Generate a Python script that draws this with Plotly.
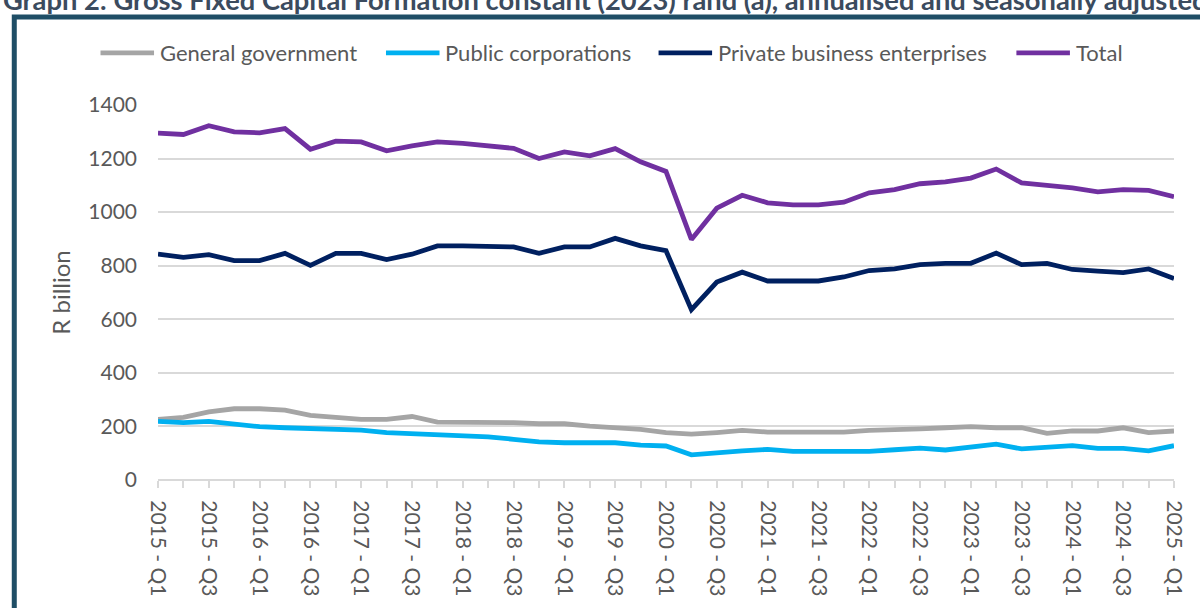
import plotly.graph_objects as go

# Quarterly periods, 2015 Q1 to 2025 Q1
quarters = [f"{y} - Q{q}" for y in range(2015, 2026) for q in range(1, 5)][:41]

# Gross fixed capital formation by type of organisation, R billion
general_government = [
    226, 234, 254, 266, 266, 261, 241, 232, 226, 226,
    237, 216, 216, 216, 214, 210, 210, 201, 197, 189,
    177, 171, 177, 185, 179, 179, 179, 179, 185, 186,
    191, 195, 199, 195, 195, 174, 183, 183, 195, 177, 183,
]
public_corporations = [
    219, 214, 219, 207, 199, 195, 191, 191, 186, 177,
    173, 173, 168, 161, 152, 142, 139, 139, 139, 130,
    127, 94, 103, 109, 114, 107, 107, 107, 107, 113,
    119, 112, 124, 134, 116, 122, 128, 118, 118, 109, 128,
]
private_business = [
    843, 831, 841, 819, 819, 846, 801, 846, 846, 823,
    843, 874, 874, 870, 870, 846, 870, 870, 902, 874,
    856, 636, 739, 776, 743, 743, 743, 758, 782, 788,
    804, 809, 809, 847, 804, 809, 786, 780, 774, 788, 752,
]
total = [
    1295, 1290, 1323, 1300, 1296, 1312, 1235, 1265, 1262, 1229,
    1247, 1262, 1257, 1247, 1238, 1200, 1225, 1210, 1237, 1188,
    1152, 898, 1015, 1063, 1035, 1027, 1027, 1037, 1072, 1084,
    1106, 1113, 1127, 1161, 1109, 1100, 1091, 1076, 1084, 1081, 1058,
]

series_names = ["General government", "Public corporations",
                "Private business enterprises", "Total"]
series_values = [general_government, public_corporations, private_business, total]
series_colors = ["#a5a5a5", "#00b0f0", "#002060", "#7030a0"]

FONT = "Lato"
TEXT = "#595959"
GRID = "#d9d9d9"
FRAME = "#1f4e66"
LINE_W = 4.8

W, H = 1200, 608
L, R, T, B = 158, 17, 105, 121.5
pw, ph = W - L - R, H - T - B


def px_x(x):
    return (x - L) / pw


def px_y(y):
    return (H - B - y) / ph


idx = list(range(len(quarters)))

fig = go.Figure()
for name, vals, color in zip(series_names, series_values, series_colors):
    fig.add_trace(go.Scatter(
        x=idx, y=vals, name=name, mode="lines", showlegend=False,
        line=dict(color=color, width=LINE_W),
    ))

# Legend row drawn as key lines with labels, left edge of each key in pixels
legend_keys = [100, 388, 663, 1024]
legend_y = px_y(52)
shapes = [
    dict(type="rect", xref="paper", yref="paper",
         x0=px_x(13), x1=px_x(1215), y0=px_y(640), y1=px_y(15.5),
         line=dict(color=FRAME, width=5), fillcolor="rgba(0,0,0,0)", layer="below"),
]
annotations = [
    dict(text="<b>Graph 2: Gross Fixed Capital Formation constant (2023) rand (a), annualised and seasonally adjusted</b>",
         xref="paper", yref="paper", x=px_x(0), y=px_y(-2), xanchor="left", yanchor="middle",
         showarrow=False, font=dict(family=FONT, size=27.3, color="#3b4b5e")),
]
for key_x, name, color in zip(legend_keys, series_names, series_colors):
    shapes.append(dict(type="line", xref="paper", yref="paper",
                       x0=px_x(key_x), x1=px_x(key_x + 54), y0=legend_y, y1=legend_y,
                       line=dict(color=color, width=LINE_W)))
    annotations.append(dict(text=name, xref="paper", yref="paper",
                            x=px_x(key_x + 58), y=legend_y, xanchor="left", yanchor="middle",
                            showarrow=False, font=dict(family=FONT, size=22, color=TEXT)))

fig.update_layout(
    width=W, height=H,
    margin=dict(l=L, r=R, t=T, b=B),
    paper_bgcolor="white", plot_bgcolor="white",
    font=dict(family=FONT, color=TEXT),
    showlegend=False,
    xaxis=dict(
        range=[0, len(quarters) - 1],
        tickmode="array",
        tickvals=idx[::2],
        ticktext=quarters[::2],
        tickangle=90,
        tickfont=dict(size=21, color=TEXT),
        ticks="outside", ticklen=7, tickwidth=1.5, tickcolor=GRID,
        minor=dict(tickmode="linear", tick0=0, dtick=1, ticks="outside",
                   ticklen=7, tickwidth=1.5, tickcolor=GRID, showgrid=False),
        showline=False, showgrid=False, zeroline=False,
        ticklabelstandoff=8,
    ),
    yaxis=dict(
        range=[0, 1400],
        tickmode="linear", tick0=0, dtick=200,
        tickfont=dict(size=21, color=TEXT),
        showgrid=True, gridcolor=GRID, gridwidth=1.5,
        zeroline=True, zerolinecolor=GRID, zerolinewidth=2,
        showline=False, ticks="",
        ticklabelstandoff=20,
        title=dict(text="R billion", font=dict(size=24, color=TEXT), standoff=10),
    ),
    shapes=shapes,
    annotations=annotations,
)

fig.write_html("out.html")
